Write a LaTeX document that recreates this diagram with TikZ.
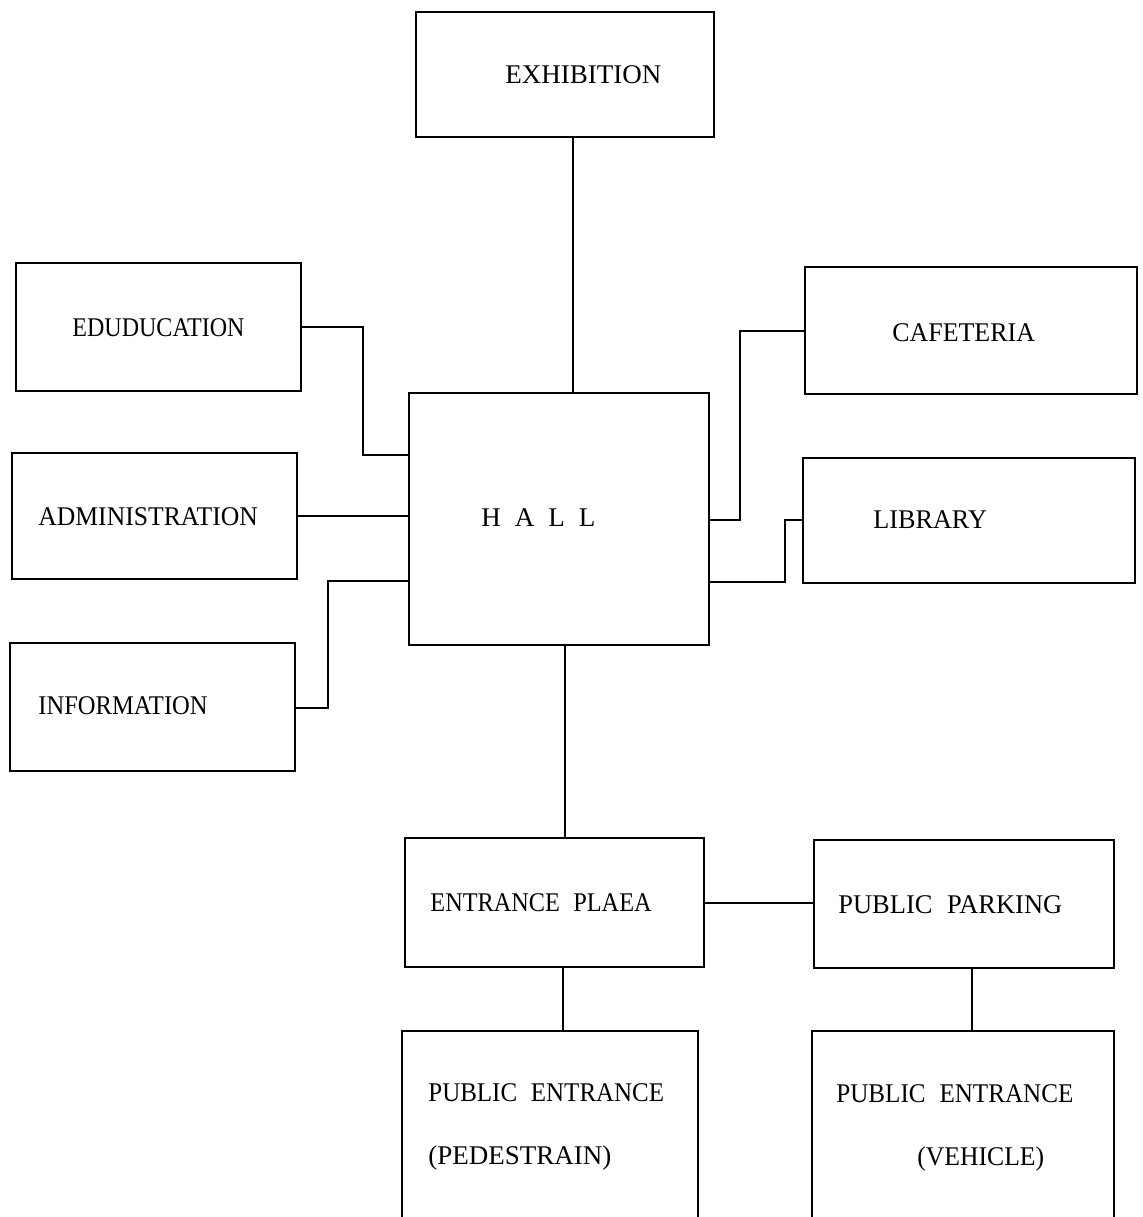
\documentclass[tikz,border=0pt]{standalone}
\usepackage{fontspec}
\usepackage{graphicx}
\setmainfont{Liberation Serif}
\usetikzlibrary{fit}
\newcommand{\narrow}[2]{\scalebox{#1}[1]{#2}}
\begin{document}
\begin{tikzpicture}[x=0.5pt,y=-0.5pt,
  box/.style={draw,line width=1pt,inner sep=0pt,fit={#1}},
  lbl/.style={anchor=west,inner sep=0pt,font=\fontsize{13.5}{16}\selectfont},
  link/.style={line width=1pt}]
\clip (0,0) rectangle (1142,1217);
\fill[white] (0,0) rectangle (1142,1217);

% rooms
\node[box={(416,12) (714,137)}]   (exh) {};
\node[box={(16,263) (301,391)}]   (edu) {};
\node[box={(12,453) (297,579)}]   (adm) {};
\node[box={(10,643) (295,771)}]   (inf) {};
\node[box={(409,393) (709,645)}]  (hall) {};
\node[box={(805,267) (1137,394)}] (caf) {};
\node[box={(803,458) (1135,583)}] (lib) {};
\node[box={(405,838) (704,967)}]  (ent) {};
\node[box={(814,840) (1114,968)}] (park) {};
\node[box={(402,1031) (698,1240)}] (ped) {};
\node[box={(812,1031) (1114,1240)}] (veh) {};

% labels
\node[lbl] (texh)  at (505,75)   {EXHIBITION};
\node[lbl] (tedu)  at (72,328)   {\narrow{0.89}{EDUDUCATION}};
\node[lbl] (tadm)  at (38,517)   {\narrow{0.95}{ADMINISTRATION}};
\node[lbl] (tinf)  at (38,706)   {\narrow{0.91}{INFORMATION}};
\node[lbl] (thall) at (481,518)  {H\hspace{7pt}A\hspace{7pt}L\hspace{7pt}L};
\node[lbl] (tcaf)  at (892,333)  {\narrow{0.96}{CAFETERIA}};
\node[lbl] (tlib)  at (873,520)  {\narrow{0.97}{LIBRARY}};
\node[lbl] (tent)  at (430,903)  {\narrow{0.9}{ENTRANCE\hspace{0.3em} PLAEA}};
\node[lbl] (tpark) at (838,905)  {\narrow{0.98}{PUBLIC\hspace{0.3em} PARKING}};
\node[lbl] (tped1) at (428,1093) {\narrow{0.925}{PUBLIC\hspace{0.3em} ENTRANCE}};
\node[lbl] (tped2) at (428,1158) {(PEDESTRAIN)};
\node[lbl] (tveh1) at (836,1094) {\narrow{0.93}{PUBLIC\hspace{0.3em} ENTRANCE}};
\node[lbl] (tveh2) at (917,1159) {\narrow{0.95}{(VEHICLE)}};

% connections
\draw[link] (exh.south -| 573,0) -- (hall.north -| 573,0);
\draw[link] (edu.east) -- (363,327) -- (363,455) -- (hall.west |- 0,455);
\draw[link] (adm.east) -- (hall.west |- adm.east);
\draw[link] (inf.east |- 0,708) -- (328,708) -- (328,581) -- (hall.west |- 0,581);
\draw[link] (caf.west |- 0,331) -- (740,331) -- (740,520) -- (hall.east |- 0,520);
\draw[link] (hall.east |- 0,582) -- (785,582) -- (785,520) -- (lib.west |- 0,520);
\draw[link] (hall.south -| 565,0) -- (ent.north -| 565,0);
\draw[link] (ent.east) -- (park.west |- ent.east);
\draw[link] (ent.south -| 563,0) -- (ped.north -| 563,0);
\draw[link] (park.south -| 972,0) -- (veh.north -| 972,0);
\end{tikzpicture}
\end{document}
